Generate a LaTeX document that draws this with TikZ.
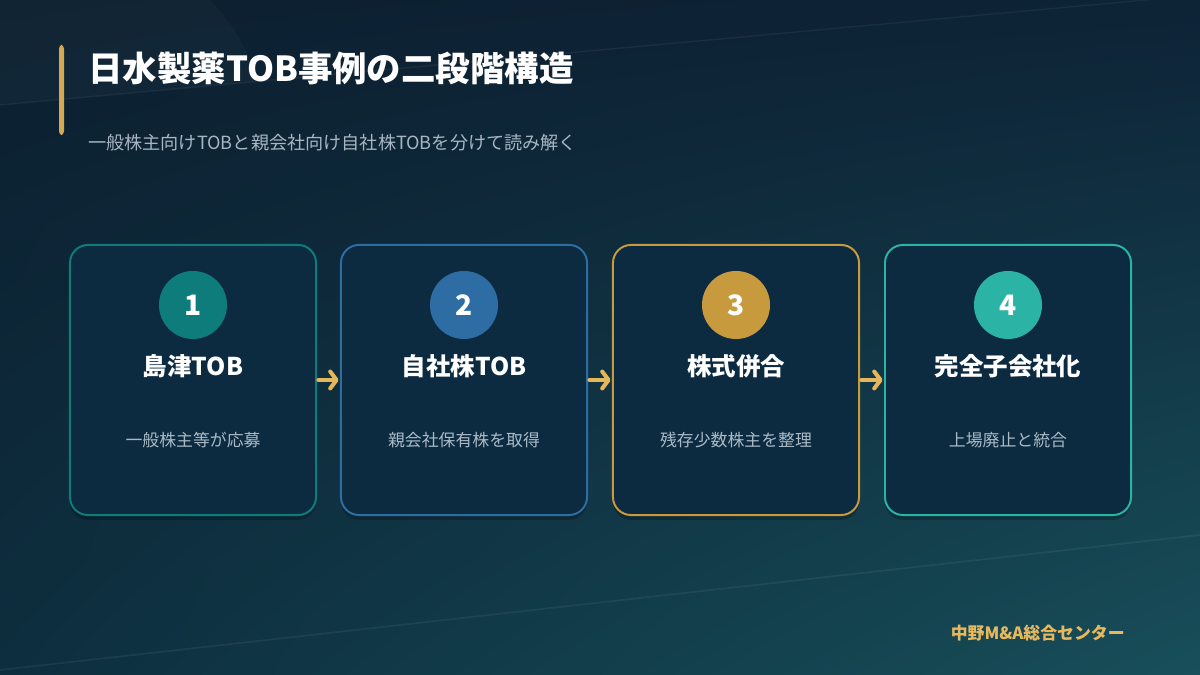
\documentclass[tikz,border=0pt]{standalone}
\usepackage{fontspec}
\setmainfont{Noto Sans CJK JP}
\usepackage{xcolor}
\usetikzlibrary{arrows.meta,shadows,shadings}

\definecolor{bgtl}{HTML}{0C1F30}
\definecolor{bgtr}{HTML}{0D2336}
\definecolor{bgbl}{HTML}{0D2E3E}
\definecolor{bgbr}{HTML}{184F5A}
\definecolor{barGold}{HTML}{D4A94F}
\definecolor{subGray}{HTML}{A8B5C2}
\definecolor{cardFill}{HTML}{0D2B40}
\definecolor{noteGray}{HTML}{A9BAC6}
\definecolor{arrowGold}{HTML}{E6B65A}
\definecolor{footGold}{HTML}{E8B95C}
\definecolor{stepA}{HTML}{0E7C7B}
\definecolor{stepB}{HTML}{2E6DA4}
\definecolor{stepC}{HTML}{C89A3E}
\definecolor{stepD}{HTML}{2BB3A5}

\begin{document}
\begin{tikzpicture}[x=0.025cm,y=0.025cm]
\tikzset{card/.style={draw, line width=1.4pt, fill=cardFill, rounded corners=0.45cm,
  minimum width=6.15cm, minimum height=6.75cm,
  drop shadow={fill=black, opacity=0.22, shadow xshift=0pt, shadow yshift=-0.12cm}}}
\tikzset{badge/.style={circle, minimum size=1.7cm, inner sep=0pt, text=white,
  font=\fontsize{20}{20}\selectfont\bfseries}}
\tikzset{steptitle/.style={text=white, font=\fontsize{17.4}{17.4}\selectfont\bfseries}}
\tikzset{stepnote/.style={text=noteGray, font=\fontsize{12}{12}\selectfont}}
\tikzset{flow/.style={draw=arrowGold, line width=2.9pt, line cap=round,
  -{Straight Barb[round, length=4.5pt, width=12pt]}, shorten <=1pt, shorten >=1pt}}

% background
\shade[upper left=bgtl, upper right=bgtr, lower left=bgbl, lower right=bgbr]
  (0,0) rectangle (1200,675);
\useasboundingbox (0,0) rectangle (1200,675);
\fill[white, opacity=0.025] (0,675) -- (210,675) .. controls (235,650) and (250,620) .. (258,594) -- (0,570) -- cycle;
\draw[white, opacity=0.05, line width=1pt] (0,570) -- (1200,680);
\draw[white, opacity=0.06, line width=1.2pt] (0,5) -- (1200,140);

% heading
\fill[barGold, rounded corners=2.5] (59,540) rectangle (64,630);
\node[anchor=west, inner sep=0pt, text=white, font=\fontsize{24.5}{24.5}\selectfont\bfseries]
  (title) at (88,607) {日水製薬TOB事例の二段階構造};
\node[anchor=west, inner sep=0pt, text=subGray, font=\fontsize{12.9}{12.9}\selectfont]
  (subtitle) at (88,532) {一般株主向けTOBと親会社向け自社株TOBを分けて読み解く};

% steps
\node[card, draw=stepA] (card1) at (193,295) {};
\node[card, draw=stepB] (card2) at (464,295) {};
\node[card, draw=stepC] (card3) at (736,295) {};
\node[card, draw=stepD] (card4) at (1008,295) {};

\node[badge, fill=stepA] (num1) at (193,370) {1};
\node[badge, fill=stepB] (num2) at (464,370) {2};
\node[badge, fill=stepC] (num3) at (736,370) {3};
\node[badge, fill=stepD] (num4) at (1008,370) {4};

\node[steptitle] (head1) at (193,309) {島津TOB};
\node[steptitle] (head2) at (464,309) {自社株TOB};
\node[steptitle] (head3) at (736,309) {株式併合};
\node[steptitle] (head4) at (1008,309) {完全子会社化};

\node[stepnote] (note1) at (193,235) {一般株主等が応募};
\node[stepnote] (note2) at (464,235) {親会社保有株を取得};
\node[stepnote] (note3) at (736,235) {残存少数株主を整理};
\node[stepnote] (note4) at (1008,235) {上場廃止と統合};

\draw[flow] (card1) -- (card2);
\draw[flow] (card2) -- (card3);
\draw[flow] (card3) -- (card4);

% footer
\node[anchor=east, inner sep=0pt, text=footGold, font=\fontsize{12}{12}\selectfont\bfseries]
  (footer) at (1125,42) {中野M\&A総合センター};
\end{tikzpicture}
\end{document}
